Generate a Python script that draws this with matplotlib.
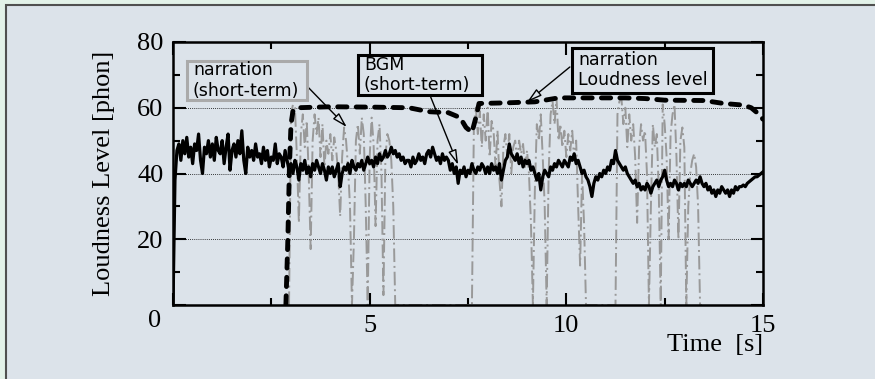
import numpy as np
import matplotlib.pyplot as plt
from matplotlib.patches import Rectangle

plt.rcParams['font.family'] = 'Liberation Serif'

# BGM short-term loudness, sampled every 0.05 s from 0 to 15 s
bgm_level = [
    0, 38, 47, 49, 44, 50, 46, 51, 45, 48, 43, 49, 47, 52, 44, 40, 48, 46, 50, 45,
    49, 44, 51, 47, 46, 50, 43, 48, 52, 41, 47, 49, 45, 50, 46, 53, 44, 40, 48, 45,
    47, 44, 49, 45, 46, 43, 48, 44, 47, 42, 45, 44, 49, 43, 46, 45, 42, 47, 44, 41,
    43, 40, 44, 42, 38, 43, 41, 44, 40, 42, 39, 43, 41, 44, 42, 40, 43, 41, 38, 42,
    40, 42, 39, 41, 43, 36, 40, 42, 41, 43, 40, 44, 42, 41, 43, 42, 44, 41, 43, 45,
    43, 44, 42, 45, 43, 46, 44, 45, 47, 45, 46, 48, 46, 47, 45, 46, 44, 45, 43, 44,
    44, 42, 45, 43, 44, 46, 44, 45, 43, 46, 47, 45, 48, 46, 44, 45, 43, 46, 44, 45,
    44, 41, 43, 40, 42, 37, 41, 40, 42, 39, 41, 40, 43, 41, 40, 42, 41, 43, 42, 40,
    42, 40, 43, 41, 42, 40, 43, 38, 41, 44, 45, 49, 46, 45, 44, 46, 43, 45, 42, 44,
    43, 44, 41, 42, 40, 38, 40, 35, 39, 41, 40, 39, 42, 41, 43, 42, 44, 43, 42, 44,
    43, 42, 45, 44, 46, 43, 44, 42, 40, 41, 39, 38, 36, 33, 37, 39, 38, 40, 39, 41,
    40, 42, 41, 44, 43, 47, 44, 43, 42, 41, 42, 40, 39, 38, 37, 38, 36, 37, 35, 36,
    35, 37, 36, 34, 36, 37, 38, 36, 38, 39, 41, 38, 36, 37, 36, 38, 37, 35, 37, 36,
    37, 36, 38, 37, 36, 37, 38, 37, 39, 37, 36, 37, 35, 36, 34, 35, 33, 35, 34, 36,
    35, 34, 35, 33, 35, 34, 36, 35, 36, 36, 36.5, 36, 37, 37.5, 38, 38.5, 39, 39, 39.5, 40,
    40.5,
]
bgm_time = np.arange(len(bgm_level)) * 0.05

# narration short-term loudness, every 0.05 s from 2.95 s
narr_level = [
    0,
    58, 61, 60, 45, 25, 52, 58, 48, 56, 40,
    17, 50, 58, 52, 57, 45, 55, 42, 50, 46,
    52, 44, 51, 47, 40, 27, 45, 54, 50, 42,
    30, 0, 20, 50, 55, 46, 57, 52, 30, 0,
    45, 57, 49, 24, 50, 55, 40, 3, 45, 52,
    50, 44, 30, 0, 0, 0, 0, 0, 0, 0,
    0, 0, 0, 0, 0, 0, 0, 0, 0, 0,
    0, 0, 0, 0, 0, 0, 0, 0, 0, 0,
    0, 0, 0, 0, 0, 0, 0, 0, 0, 0,
    0, 0, 0, 55, 60, 52, 59, 48, 58, 50,
    60, 45, 56, 53, 42, 53, 38, 30, 48, 52,
    45, 52, 40, 48, 50, 44, 50, 46, 49, 42,
    47, 40, 25, 0, 35, 55, 50, 58, 45, 30,
    0, 40, 58, 62, 55, 63, 50, 55, 48, 53,
    45, 52, 47, 53, 44, 50, 30, 12, 40, 25,
    0, 0, 0, 0, 0, 0, 0, 0, 0, 0,
    0, 0, 0, 0, 0, 0, 58, 62, 63, 55,
    60, 48, 58, 50, 55, 45, 25, 48, 55, 50,
    53, 40, 0, 30, 55, 48, 52, 35, 0, 61,
    55, 45, 20, 52, 58, 61, 45, 20, 50, 54,
    48, 0, 30, 40, 44, 46, 42, 30, 0, 0,
]
narr_time = 2.95 + np.arange(len(narr_level)) * 0.05

# narration loudness level
loud_time = [2.87, 2.92, 2.96, 3.0, 3.05, 3.15, 4.0, 5.0, 6.0, 6.5, 7.0, 7.3, 7.45, 7.6,
             7.7, 7.78, 8.5, 9.2, 9.8, 10.5, 11.5, 12.0, 12.5, 13.5, 14.0, 14.5, 14.7,
             14.85, 15.0]
loud_level = [0, 20, 42, 55, 59, 60, 60.3, 60.2, 60, 58.8, 58.5, 57, 54, 52.5,
              57, 61.3, 61.5, 61.8, 63, 63, 63, 62.8, 62.3, 62.2, 61.3, 60.8, 60,
              58.5, 56.5]

bg = "#dce3ea"
fig = plt.figure(figsize=(8.75, 3.79), dpi=100)
fig.patch.set_facecolor("#e3f2e9")
fig.add_artist(Rectangle((6 / 875, -0.05), 1.0, 1 - 5 / 379 + 0.05, transform=fig.transFigure,
                         facecolor=bg, edgecolor="#505050", lw=1.5, zorder=0))

ax = fig.add_axes([173 / 875, 1 - 305 / 379, 590 / 875, 263 / 379])
ax.set_facecolor(bg)

ax.plot(narr_time, narr_level, color="#999999", lw=1.4, ls=(0, (7, 2, 1, 2)), zorder=2)
ax.plot(bgm_time, bgm_level, color="black", lw=2.3, zorder=3)
ax.plot(loud_time, loud_level, color="black", lw=3.5, ls=(0, (1.9, 1.9)),
        dash_capstyle="round", zorder=4)

ax.set_xlim(0, 15)
ax.set_ylim(0, 80)
ax.set_xticks([0, 5, 10, 15])
ax.set_xticklabels(["", "5", "10", "15"])
ax.set_xticks([2.5, 7.5, 12.5], minor=True)
ax.set_yticks([0, 20, 40, 60, 80])
ax.set_yticklabels(["", "20", "40", "60", "80"])
ax.set_yticks([10, 30, 50, 70], minor=True)
ax.tick_params(which="both", direction="in", top=True, right=True, width=1.5)
ax.tick_params(which="major", length=9, labelsize=19, pad=7)
ax.tick_params(which="minor", length=5)
for s in ax.spines.values():
    s.set_linewidth(1.8)
ax.grid(axis="y", which="major", color="black", lw=0.6, ls=(0, (1, 1.5)))
ax.set_axisbelow(True)

ax.text(-0.0305, -0.061, "0", transform=ax.transAxes, ha="center", va="center", fontsize=19)
ax.text(1.0, -0.152, "Time  [s]", transform=ax.transAxes, ha="right", va="center", fontsize=19)
ax.text(-0.117, 0.5, "Loudness Level [phon]", transform=ax.transAxes, rotation=90,
        ha="center", va="center", fontsize=19)

arrow = dict(arrowstyle="-|>,head_length=0.9,head_width=0.25", fc=bg, ec="black", lw=1.0,
             shrinkA=0, shrinkB=0)
ax.annotate("", xy=(4.42, 54.1), xytext=(3.43, 66.3), arrowprops=arrow, zorder=5)
ax.annotate("", xy=(7.25, 42.6), xytext=(6.53, 63.9), arrowprops=arrow, zorder=5)
ax.annotate("", xy=(9.0, 61.7), xytext=(10.09, 72.4), arrowprops=arrow, zorder=5)

# label boxes: (left, bottom, right, top) in data units, text, edge colour
labels = [
    ((0.356, 62.4, 3.407, 74.2), "narration\n(short-term)", "#aaaaaa"),
    ((4.703, 63.9, 7.856, 76.0), "BGM\n(short-term)", "black"),
    ((10.144, 64.5, 13.729, 78.2), "narration\nLoudness level", "black"),
]
for (x0, y0, x1, y1), txt, ec in labels:
    ax.add_patch(Rectangle((x0, y0), x1 - x0, y1 - y0, fc=bg, ec=ec, lw=2.2,
                           zorder=6, clip_on=False))
    ax.text(x0 + 0.15, (y0 + y1) / 2, txt, family="DejaVu Sans", fontsize=12.5,
            ha="left", va="center", linespacing=1.15, zorder=7)

fig.savefig("out.png", dpi=100, facecolor=fig.get_facecolor())
